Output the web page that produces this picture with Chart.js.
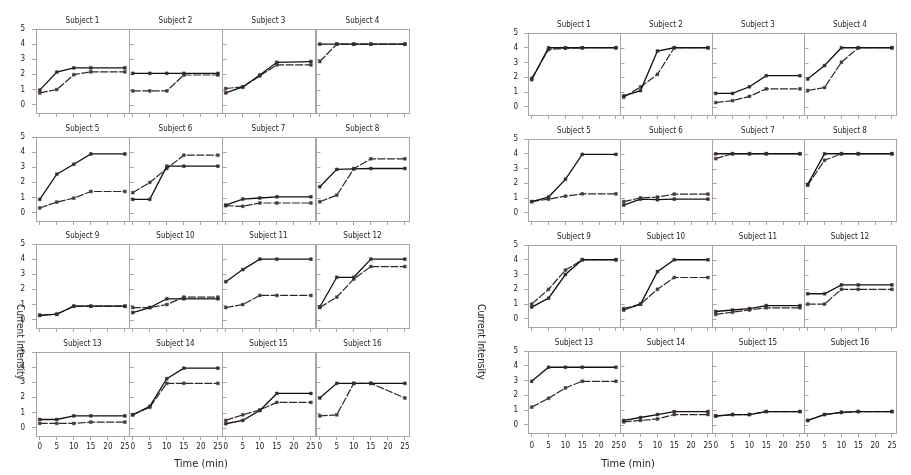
<!DOCTYPE html>
<html><head><meta charset="utf-8">
<script src="https://cdn.jsdelivr.net/npm/chart.js@4.4.1/dist/chart.umd.min.js"></script>
<style>
html,body{margin:0;padding:0;background:#fff;}
#root{position:relative;width:911px;height:475px;overflow:hidden;background:#fff;}
canvas{position:absolute;}
.lbl{position:absolute;font-family:'Liberation Sans Narrow','DejaVu Sans Condensed','Liberation Sans',Arial,sans-serif;color:#222;white-space:nowrap;line-height:1;}
</style></head><body><div id="root"></div>
<script>
// ---- data ----
const times = [0, 5, 10, 15, 25];
const xTicks = [0, 5, 10, 15, 20, 25];
const yTicks = [0, 1, 2, 3, 4, 5];
const subjects = ['Subject 1','Subject 2','Subject 3','Subject 4','Subject 5','Subject 6','Subject 7','Subject 8',
  'Subject 9','Subject 10','Subject 11','Subject 12','Subject 13','Subject 14','Subject 15','Subject 16'];
const xTitle = 'Time (min)';
const yTitle = 'Current Intensity';

const leftSolid = [
  [0.96,2.15,2.43,2.43,2.43],[2.07,2.07,2.07,2.07,2.07],[0.78,1.17,1.96,2.80,2.85],[4,4,4,4,4],
  [0.88,2.54,3.20,3.88,3.88],[0.88,0.88,3.07,3.07,3.07],[0.50,0.90,0.97,1.05,1.05],[1.71,2.86,2.90,2.92,2.92],
  [0.29,0.36,0.89,0.89,0.89],[0.47,0.80,1.38,1.38,1.38],[2.51,3.31,4,4,4],[0.84,2.80,2.80,4,4],
  [0.54,0.54,0.78,0.78,0.78],[0.85,1.41,3.24,3.93,3.93],[0.26,0.48,1.13,2.26,2.26],[1.96,2.93,2.93,2.93,2.93]
];
const leftDashed = [
  [0.78,1.00,1.98,2.17,2.17],[0.91,0.91,0.91,1.96,1.96],[1.07,1.17,1.90,2.63,2.63],[2.85,4,4,4,4],
  [0.31,0.70,0.96,1.40,1.40],[1.32,2.00,2.92,3.80,3.80],[0.46,0.42,0.64,0.64,0.64],[0.72,1.16,2.90,3.56,3.56],
  [0.29,0.36,0.89,0.89,0.89],[0.80,0.80,1.00,1.49,1.49],[0.80,1.00,1.60,1.60,1.60],[0.80,1.49,2.69,3.51,3.51],
  [0.28,0.28,0.28,0.37,0.37],[0.85,1.35,2.93,2.93,2.93],[0.48,0.85,1.17,1.67,1.67],[0.78,0.85,2.93,2.93,1.96]
];
const rightSolid = [
  [1.84,4,4,4,4],[0.75,1.10,3.78,4,4],[0.91,0.91,1.36,2.11,2.11],[1.89,2.80,4,4,4],
  [0.76,1.07,2.27,3.96,3.96],[0.53,0.93,0.89,0.93,0.93],[4,4,4,4,4],[1.93,4,4,4,4],
  [0.80,1.40,3.00,4,4],[0.60,1.00,3.20,4,4],[0.50,0.60,0.70,0.90,0.90],[1.70,1.70,2.30,2.30,2.30],
  [2.95,3.90,3.90,3.90,3.90],[0.30,0.50,0.70,0.90,0.90],[0.60,0.70,0.70,0.90,0.90],[0.30,0.70,0.85,0.90,0.90]
];
const rightDashed = [
  [1.93,3.88,3.97,4,4],[0.65,1.35,2.20,4,4],[0.29,0.42,0.71,1.22,1.22],[1.11,1.31,3.02,4,4],
  [0.76,0.93,1.13,1.29,1.29],[0.76,1.02,1.07,1.27,1.27],[3.67,4,4,4,4],[1.87,3.56,4,4,4],
  [1.00,2.00,3.30,4,4],[0.70,1.00,2.00,2.80,2.80],[0.30,0.45,0.60,0.75,0.75],[1.00,1.00,2.00,2.00,2.00],
  [1.20,1.80,2.50,2.95,2.95],[0.20,0.30,0.40,0.70,0.70],[0.60,0.70,0.70,0.90,0.90],[0.30,0.70,0.85,0.90,0.90]
];

// ---- layout ----
const FONT = "'Liberation Sans Narrow','DejaVu Sans Condensed','Liberation Sans',Arial,sans-serif";
const YW = 30, RP = 8, TH = 13, XH = 22;
const panels = [
  {lefts:[36,129,222,316], w:93, tops:[29,137,244,352], h:84, yPad:7, xPad:2, A:leftSolid, B:leftDashed,
   xt:{x:201,y:463}, yt:{x:20,y:342}},
  {lefts:[528,620,712,804], w:92, tops:[33,139,245,351], h:82, yPad:6, xPad:4, A:rightSolid, B:rightDashed,
   xt:{x:628,y:463}, yt:{x:481,y:342}}
];

const boxPlugin = {
  id: 'box',
  beforeDatasetsDraw(chart, args, opts) {
    const {ctx, chartArea: a} = chart;
    ctx.save();
    ctx.strokeStyle = '#a6a6a6';
    ctx.lineWidth = 1;
    const l = Math.round(a.left) + 0.5, t = Math.round(a.top) + 0.5;
    const r = Math.round(a.right) + 0.5, b = Math.round(a.bottom) + 0.5;
    ctx.strokeRect(l, t, r - l, b - t);
    if (opts.inner) {
      const ys = chart.scales.y;
      yTicks.forEach(v => {
        const py = Math.round(ys.getPixelForValue(v)) + 0.5;
        ctx.beginPath(); ctx.moveTo(l, py); ctx.lineTo(l + 4, py); ctx.stroke();
      });
    }
    ctx.restore();
  }
};

const root = document.getElementById('root');
panels.forEach(p => {
  subjects.forEach((name, i) => {
    const r = Math.floor(i / 4), c = i % 4;
    const cv = document.createElement('canvas');
    const W = YW + p.w + RP, H = TH + p.h + XH;
    cv.width = W; cv.height = H;
    cv.style.width = W + 'px'; cv.style.height = H + 'px';
    cv.style.left = (p.lefts[c] - YW) + 'px';
    cv.style.top = (p.tops[r] - TH) + 'px';
    root.appendChild(cv);
    const first = c === 0, bottom = r === 3;
    new Chart(cv, {
      type: 'line',
      data: {
        datasets: [
          {data: times.map((t, k) => ({x: t, y: p.A[i][k]})), borderColor: '#111', borderWidth: 1.3,
           pointStyle: 'rect', pointRadius: 2, pointBackgroundColor: '#3b2b2b', pointBorderColor: '#3b2b2b',
           pointBorderWidth: 0.5, tension: 0},
          {data: times.map((t, k) => ({x: t, y: p.B[i][k]})), borderColor: '#2e2828', borderWidth: 1.2,
           borderDash: [8, 1.5], pointStyle: 'rect', pointRadius: 2, pointBackgroundColor: '#4a3a3a',
           pointBorderColor: '#4a3a3a', pointBorderWidth: 0.5, tension: 0}
        ]
      },
      options: {
        responsive: false, animation: false, devicePixelRatio: 1,
        events: [],
        layout: {padding: {left: 0, top: 0, right: RP, bottom: 0}},
        plugins: {
          legend: {display: false}, tooltip: {enabled: false},
          title: {display: true, text: name, fullSize: false, color: '#222',
                  font: {size: 8, family: FONT, weight: 'normal', lineHeight: 1.25},
                  padding: {top: 0, bottom: 3}},
          box: {inner: !first}
        },
        scales: {
          x: {
            type: 'linear', min: -1.1, max: 26.2,
            afterBuildTicks: s => { s.ticks = xTicks.map(v => ({value: v})); },
            afterFit: s => { s.height = XH; },
            ticks: {display: bottom, color: '#222', font: {size: 8, family: FONT}, padding: p.xPad,
                    maxRotation: 0, autoSkip: false},
            grid: {display: true, drawOnChartArea: false, drawTicks: true, tickLength: 4, color: '#a6a6a6'},
            border: {display: false}
          },
          y: {
            type: 'linear', min: -0.55, max: 5,
            afterBuildTicks: s => { s.ticks = yTicks.map(v => ({value: v})); },
            afterFit: s => { s.width = YW; },
            ticks: {display: first, color: '#222', font: {size: 8, family: FONT}, padding: p.yPad},
            grid: {display: first, drawOnChartArea: false, drawTicks: true, tickLength: 4, color: '#a6a6a6'},
            border: {display: false}
          }
        }
      },
      plugins: [boxPlugin]
    });
  });
  const xt = document.createElement('div');
  xt.className = 'lbl'; xt.textContent = xTitle;
  xt.style.fontSize = '11px';
  xt.style.left = p.xt.x + 'px'; xt.style.top = p.xt.y + 'px';
  xt.style.transform = 'translate(-50%,-50%)';
  root.appendChild(xt);
  const yt = document.createElement('div');
  yt.className = 'lbl'; yt.textContent = yTitle;
  yt.style.fontSize = '10px';
  yt.style.left = p.yt.x + 'px'; yt.style.top = p.yt.y + 'px';
  yt.style.transform = 'translate(-50%,-50%) rotate(90deg)';
  root.appendChild(yt);
});
</script></body></html>
